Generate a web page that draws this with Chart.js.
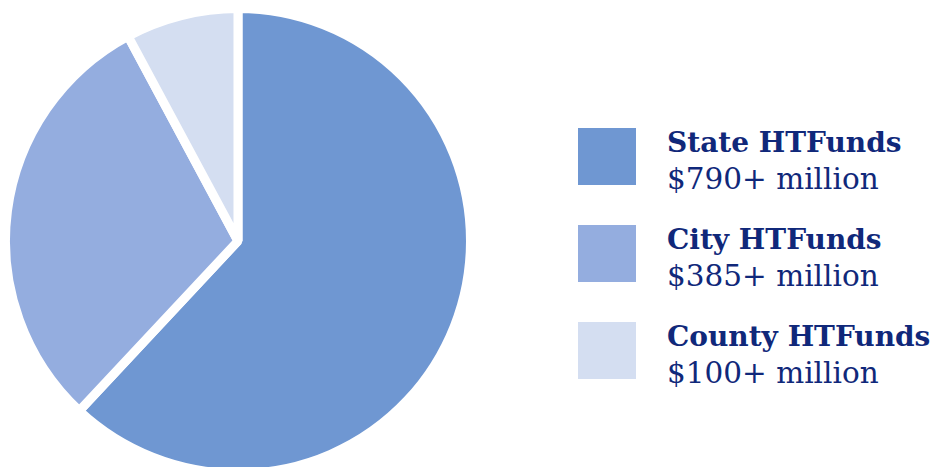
<!DOCTYPE html>
<html>
<head>
<meta charset="utf-8">
<script src="https://cdn.jsdelivr.net/npm/chart.js@4/dist/chart.umd.min.js"></script>
<style>
  html, body { margin: 0; padding: 0; background: #fff; }
  #wrap { position: relative; width: 940px; height: 467px; overflow: hidden; }
  #pieBox { position: absolute; left: 1px; top: 4px; width: 474px; height: 474px; }
  #legend { position: absolute; left: 578px; top: 128px; }
  .legend-item { position: relative; height: 97px; }
  .legend-box { position: absolute; left: 0; top: 0; width: 58px; height: 57px; }
  .legend-name { position: absolute; left: 89px; top: -2px; white-space: nowrap;
    font-family: 'DejaVu Serif', serif; font-weight: bold; font-size: 28px; color: #10287a; }
  .legend-value { position: absolute; left: 89px; top: 34px; white-space: nowrap;
    font-family: 'DejaVu Serif', serif; font-size: 29.5px; color: #10287a; }
</style>
</head>
<body>
<div id="wrap">
  <div id="pieBox"><canvas id="pieChart"></canvas></div>
  <div id="legend"></div>
</div>
<script>
const labels = ['State HTFunds', 'City HTFunds', 'County HTFunds'];
const amounts = [790, 385, 100];
const amountLabels = ['$790+ million', '$385+ million', '$100+ million'];
const colors = ['#6f97d2', '#94addf', '#d4def1'];

const ctx = document.getElementById('pieChart').getContext('2d');
new Chart(ctx, {
  type: 'pie',
  data: {
    labels,
    datasets: [{
      data: amounts,
      backgroundColor: colors,
      borderColor: '#ffffff',
      borderWidth: 9
    }]
  },
  options: {
    responsive: true,
    maintainAspectRatio: false,
    animation: false,
    layout: { padding: 0 },
    plugins: {
      legend: { display: false },
      tooltip: { enabled: false }
    }
  }
});

let html = '';
labels.forEach((label, i) => {
  html += '<div class="legend-item">'
    + '<div class="legend-box" style="background:' + colors[i] + '"></div>'
    + '<div class="legend-name">' + label + '</div>'
    + '<div class="legend-value">' + amountLabels[i] + '</div>'
    + '</div>';
});
document.getElementById('legend').innerHTML = html;
</script>
</body>
</html>
